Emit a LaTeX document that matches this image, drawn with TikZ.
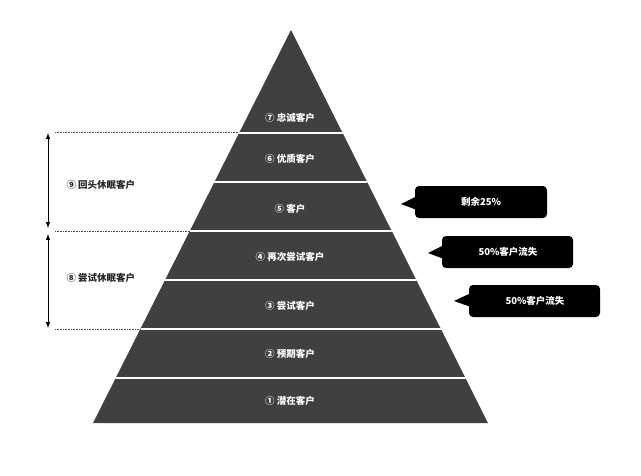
\documentclass[tikz,border=0pt]{standalone}
\usepackage{fontspec}
\setmainfont{Noto Sans CJK SC}
\begin{document}
\begin{tikzpicture}[x=1pt,y=-1pt,
  lab/.style={text=white,font=\fontsize{9.5}{11}\selectfont\bfseries},
  side/.style={text=black!85,font=\fontsize{9.5}{11}\selectfont\bfseries},
  call/.style={fill=black,rounded corners=4pt},
  sep/.style={white,line width=1.6pt},
  dot/.style={densely dotted,line width=0.6pt,black!70},
  arr/.style={<->,>=latex,line width=1pt}]
\useasboundingbox (0,0) rectangle (641,475);
\fill[black!75] (291,30) -- (488,423) -- (93,423) -- cycle;
\begin{scope}
\clip (291,30) -- (488,423) -- (93,423) -- cycle;
\foreach \y in {133,182,231,280,329,378} \draw[sep] (80,\y) -- (500,\y);
\end{scope}
\node[lab] (l7) at (290,118) {⑦ 忠诚客户};
\node[lab] (l6) at (290,159) {⑥ 优质客户};
\node[lab] (l5) at (290,209) {⑤ 客户};
\node[lab] (l4) at (290,257) {④ 再次尝试客户};
\node[lab] (l3) at (290,306) {③ 尝试客户};
\node[lab] (l2) at (290,354) {② 预期客户};
\node[lab] (l1) at (290,401) {① 潜在客户};
\coordinate (d1a) at (55,132); \coordinate (d1b) at (239,132);
\coordinate (d2a) at (55,231); \coordinate (d2b) at (190,231);
\coordinate (d3a) at (55,329); \coordinate (d3b) at (141,329);
\draw[dot] (d1a) -- (d1b); \draw[dot] (d2a) -- (d2b); \draw[dot] (d3a) -- (d3b);
\coordinate (a1) at (48,133); \coordinate (a2) at (48,228);
\coordinate (a3) at (48,234); \coordinate (a4) at (48,328);
\draw[arr] (a1) -- (a2); \draw[arr] (a3) -- (a4);
\node[side,anchor=west] (s9) at (63,185) {⑨ 回头休眠客户};
\node[side,anchor=west] (s8) at (63,278) {⑧ 尝试休眠客户};
\fill[call] (415,186) rectangle (547,218);
\fill (401,204) -- (417,196) -- (417,210) -- cycle;
\node[lab] (c1) at (481,202) {剩余25\%};
\fill[call] (442,236) rectangle (573,268);
\fill (428,253) -- (444,245) -- (444,259) -- cycle;
\node[lab] (c2) at (508,252) {50\%客户流失};
\fill[call] (469,285) rectangle (600,317);
\fill (454,301) -- (471,293) -- (471,307) -- cycle;
\node[lab] (c3) at (535,301) {50\%客户流失};
\end{tikzpicture}
\end{document}
